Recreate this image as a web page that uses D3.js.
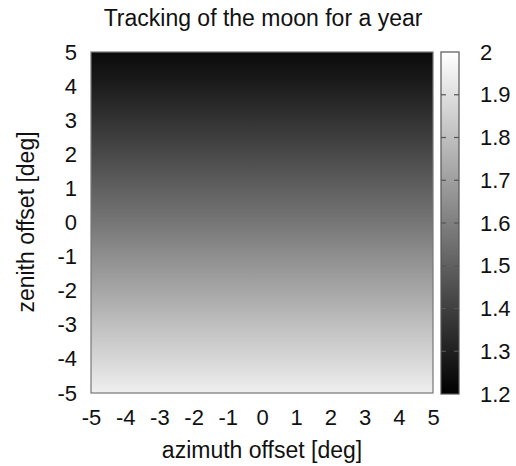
<!DOCTYPE html>
<html>
<head>
<meta charset="utf-8">
<script src="https://cdn.jsdelivr.net/npm/d3@7"></script>
<style>
  body { margin: 0; background: #fff; }
  text { font-family: "Liberation Sans", Arial, sans-serif; fill: #111; }
</style>
</head>
<body>
<div id="chart"></div>
<script>
//*** data
var azimuth = [-5, -4, -3, -2, -1, 0, 1, 2, 3, 4, 5];
var zenith = [5, 4, 3, 2, 1, 0, -1, -2, -3, -4, -5];
// value per zenith row (same across azimuth)
var rowValues = [1.23, 1.29, 1.36, 1.43, 1.50, 1.57, 1.65, 1.72, 1.80, 1.87, 1.95];
var cbTicks = [1.2, 1.3, 1.4, 1.5, 1.6, 1.7, 1.8, 1.9, 2];
var cbDomain = [1.2, 2];

//*** layout
var width = 516, height = 466;
var plot = {left: 91, top: 52, right: 433, bottom: 393};
var cb = {left: 441, right: 459};
var font = '"Liberation Sans", Arial, sans-serif';

var svg = d3.select('#chart').append('svg')
    .attr('width', width).attr('height', height);

var x = d3.scaleLinear().domain([-5, 5]).range([plot.left, plot.right]);
var y = d3.scaleLinear().domain([-5, 5]).range([plot.bottom, plot.top]);
var color = d3.scaleLinear().domain(cbDomain).range(['#000', '#fff']);
var cbY = d3.scaleLinear().domain(cbDomain).range([plot.bottom + 1, plot.top]);

var defs = svg.append('defs');

// gradient along zenith for the map
var mapGrad = defs.append('linearGradient').attr('id', 'mapGrad')
    .attr('gradientUnits', 'userSpaceOnUse')
    .attr('x1', 0).attr('x2', 0).attr('y1', plot.top).attr('y2', plot.bottom);
mapGrad.selectAll('stop').data(zenith).enter().append('stop')
    .attr('offset', function(d) { return (y(d) - plot.top) / (plot.bottom - plot.top); })
    .attr('stop-color', function(d, i) { return color(rowValues[i]); });

// map surface spanning the azimuth range
var azExt = d3.extent(azimuth), zeExt = d3.extent(zenith);
svg.append('rect')
    .attr('x', x(azExt[0])).attr('width', x(azExt[1]) - x(azExt[0]))
    .attr('y', y(zeExt[1])).attr('height', y(zeExt[0]) - y(zeExt[1]))
    .attr('fill', 'url(#mapGrad)')
    .attr('stroke', '#777').attr('stroke-width', 1.2);

// axes (labels only)
var xAxis = d3.axisBottom(x).tickValues(azimuth).tickSize(0).tickPadding(16).tickFormat(String);
var gx = svg.append('g').attr('transform', 'translate(0,' + plot.bottom + ')').call(xAxis);
var yAxis = d3.axisLeft(y).tickValues(zenith).tickSize(0).tickPadding(14).tickFormat(String);
var gy = svg.append('g').attr('transform', 'translate(' + plot.left + ',0)').call(yAxis);
[gx, gy].forEach(function(g) {
  g.select('.domain').remove();
  g.selectAll('text').style('font-size', '22px').attr('fill', '#111').style('font-family', font);
});

//*** colorbar
var cbGrad = defs.append('linearGradient').attr('id', 'cbGrad')
    .attr('x1', 0).attr('x2', 0).attr('y1', 1).attr('y2', 0);
cbGrad.selectAll('stop').data(cbDomain).enter().append('stop')
    .attr('offset', function(d, i) { return i; })
    .attr('stop-color', function(d) { return color(d); });
svg.append('rect')
    .attr('x', cb.left).attr('y', cbY(2))
    .attr('width', cb.right - cb.left).attr('height', cbY(1.2) - cbY(2))
    .attr('fill', 'url(#cbGrad)').attr('stroke', '#555').attr('stroke-width', 1.2);

var inner = cbTicks.filter(function(d) { return d > 1.2 && d < 2; });
var tg = svg.append('g');
tg.selectAll('line.l').data(inner).enter().append('line')
    .attr('x1', cb.left).attr('x2', cb.left + 5)
    .attr('y1', function(d) { return cbY(d); }).attr('y2', function(d) { return cbY(d); })
    .attr('stroke', '#555').attr('stroke-width', 1.2);
tg.selectAll('line.r').data(inner).enter().append('line')
    .attr('x1', cb.right - 5).attr('x2', cb.right)
    .attr('y1', function(d) { return cbY(d); }).attr('y2', function(d) { return cbY(d); })
    .attr('stroke', '#555').attr('stroke-width', 1.2);

var cbAxis = d3.axisRight(cbY).tickValues(cbTicks).tickSize(0).tickPadding(21)
    .tickFormat(function(d) { return d === 2 ? '2' : d3.format('.1f')(d); });
var gc = svg.append('g').attr('transform', 'translate(' + cb.right + ',0)').call(cbAxis);
gc.select('.domain').remove();
gc.selectAll('text').style('font-size', '22px').attr('fill', '#111').style('font-family', font);

//*** titles
svg.append('text').attr('x', 263).attr('y', 26).attr('text-anchor', 'middle')
    .style('font-size', '23px').text('Tracking of the moon for a year');
svg.append('text').attr('x', 262).attr('y', 458).attr('text-anchor', 'middle')
    .style('font-size', '23px').text('azimuth offset [deg]');
svg.append('text').attr('transform', 'translate(34,222) rotate(-90)').attr('text-anchor', 'middle')
    .style('font-size', '23px').text('zenith offset [deg]');
</script>
</body>
</html>
